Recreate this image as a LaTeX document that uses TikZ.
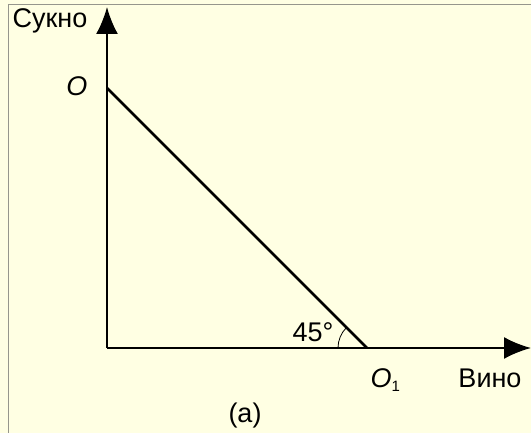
\documentclass[tikz,border=0pt]{standalone}
\usepackage{fontspec}
\setmainfont{Liberation Sans}
\usepackage{tikz}
\usetikzlibrary{arrows.meta}
\definecolor{paper}{RGB}{255,255,227}
\definecolor{frameline}{RGB}{150,150,140}

\begin{document}
\begin{tikzpicture}[
				x=1pt, y=1pt,
				label style/.style={
					inner sep=0pt,
					font=\fontsize{27}{32}\selectfont
				},
				axis style/.style={
					line width=2pt,
					-{Latex[length=27pt,width=22pt]}
				},
				>=latex
				]
				
				% background and frame
				\fill[paper] (0,0) rectangle (531,433);
				\useasboundingbox (0,0) rectangle (531,433);
				\draw[frameline, line width=1pt] (8,0) -- (8,428) -- (531,428);
				
				\coordinate (orig) at (107,85);
				\coordinate (ytop) at (107,426);
				\coordinate (xend) at (531,85);
				\coordinate (ptO) at (107,345);
				\coordinate (ptO1) at (367,85);
				
				\draw[axis style] (orig) -- (ytop);
				\draw[axis style] (orig) -- (xend);
				\draw[line width=2.5pt] (ptO) -- (ptO1);
				\draw[line width=0.8pt] ([shift={(180:29)}]ptO1) arc (180:135:29);
				
				\node[label style] (ylab) at (50,412) {Сукно};
				\node[label style] (xlab) at (490,55) {Вино};
				\node[label style] (labO) at (77,347) {\itshape O};
				\node[label style] (labO1) at (381,53) {\itshape O\rlap{\raisebox{-0.3ex}{\fontsize{15}{18}\selectfont\upshape 1}}};
				\node[label style] (ang) at (313,101) {45°};
				\node[label style] (cap) at (245,17) {(a)};
				
			\end{tikzpicture}
\end{document}
